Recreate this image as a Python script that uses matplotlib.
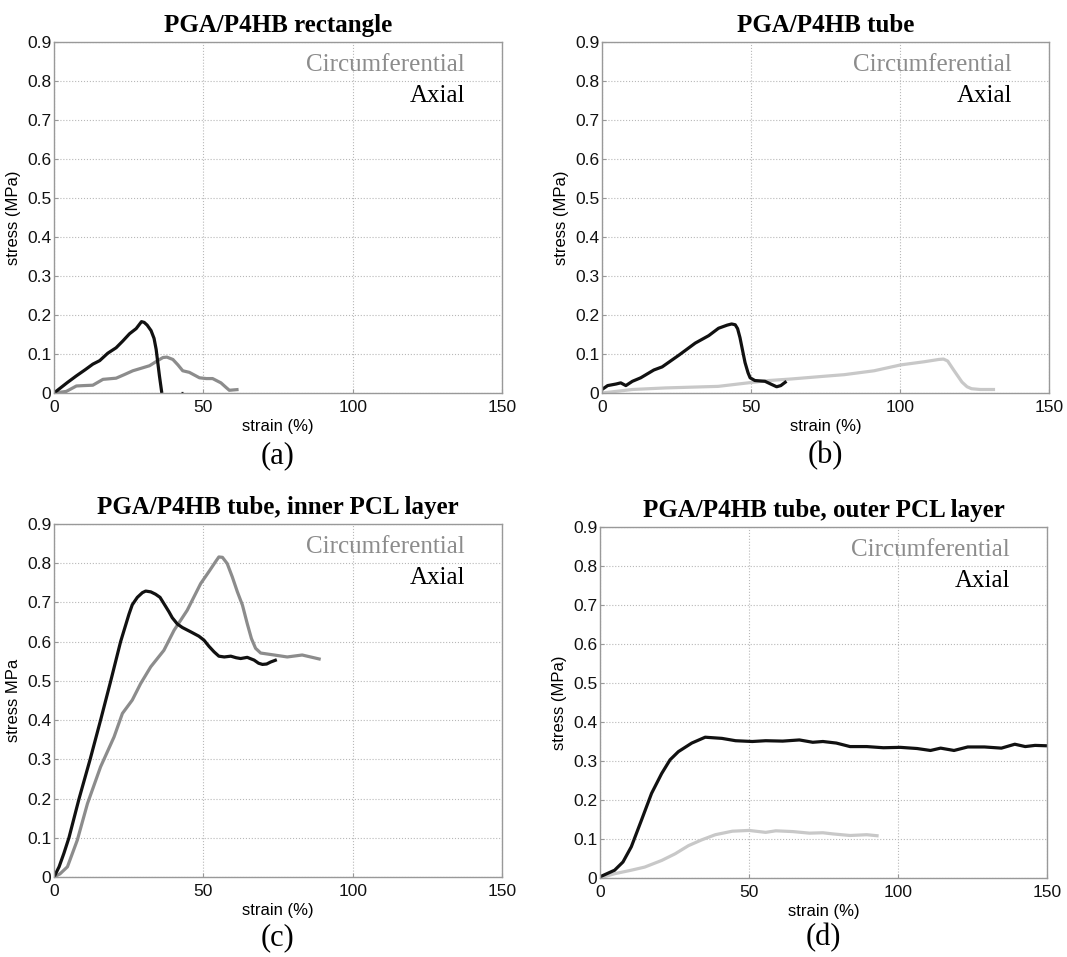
import matplotlib
matplotlib.use("Agg")
import matplotlib.pyplot as plt

# panel (a) PGA/P4HB rectangle
rect_ax_x = [0, 2, 4.5, 7.5, 10.5, 13, 15.3, 18, 20.8, 23, 25.3, 27.5, 28.6, 29.3, 30.2, 31.2, 32.5, 33.5, 34.2, 35.3, 36.1]
rect_ax_y = [0, 0.012, 0.027, 0.044, 0.060, 0.074, 0.083, 0.102, 0.116, 0.133, 0.152, 0.165, 0.176, 0.183, 0.181, 0.174, 0.160, 0.140, 0.112, 0.044, 0]
rect_ax_tail_x = [42.6, 43.2]
rect_ax_tail_y = [0.001, 0.001]
rect_ci_x = [0, 4.1, 7.5, 10, 13, 16.4, 20.8, 23.5, 26.4, 29, 32, 34.7, 36.5, 37.8, 39.8, 41.5, 43.1, 45.3, 48.7, 51, 53.1, 55.9, 57.5, 58.7, 61.8]
rect_ci_y = [0, 0.004, 0.018, 0.019, 0.020, 0.035, 0.038, 0.047, 0.057, 0.063, 0.070, 0.083, 0.091, 0.092, 0.086, 0.072, 0.057, 0.053, 0.039, 0.037, 0.037, 0.026, 0.015, 0.007, 0.009]

# panel (b) PGA/P4HB tube
tube_ax_x = [0, 1.9, 4.7, 6.3, 8, 10.2, 13, 17.4, 20.2, 25.8, 31.3, 35.8, 39.1, 42, 43.5, 44.7, 45.5, 46.3, 47.2, 48, 49, 49.7, 51.3, 54.7, 56.9, 58.6, 60, 61.9]
tube_ax_y = [0.009, 0.019, 0.023, 0.026, 0.019, 0.030, 0.039, 0.059, 0.067, 0.097, 0.128, 0.147, 0.166, 0.174, 0.177, 0.175, 0.165, 0.142, 0.108, 0.078, 0.052, 0.039, 0.032, 0.030, 0.022, 0.016, 0.019, 0.030]
tube_ci_x = [0, 10.2, 21.3, 39, 49, 56, 63.6, 74.7, 81.3, 91.3, 100.2, 108, 113, 114.6, 116, 118, 120.8, 122.5, 124, 126.9, 131.9]
tube_ci_y = [0, 0.009, 0.013, 0.017, 0.026, 0.032, 0.036, 0.043, 0.047, 0.057, 0.072, 0.080, 0.086, 0.087, 0.082, 0.059, 0.028, 0.016, 0.011, 0.009, 0.009]

# panel (c) inner PCL layer
inner_ax_x = [0, 1.7, 3.3, 5.0, 8.4, 12.1, 15.6, 19.0, 22.3, 25.1, 26.2, 27.9, 29.6, 30.7, 32.4, 34, 35.5, 36.8, 38.5, 39.6, 41.3, 43, 45.8, 48.5, 50.2, 51.9, 53.6, 55.2, 57, 59.2, 61, 62.5, 64.7, 67, 68.5, 69.8, 71.2, 72.5, 74.6]
inner_ax_y = [0, 0.026, 0.060, 0.100, 0.200, 0.300, 0.400, 0.500, 0.600, 0.670, 0.694, 0.713, 0.725, 0.729, 0.727, 0.721, 0.713, 0.697, 0.676, 0.661, 0.645, 0.636, 0.625, 0.614, 0.604, 0.588, 0.574, 0.563, 0.561, 0.563, 0.559, 0.557, 0.560, 0.553, 0.545, 0.542, 0.543, 0.548, 0.554]
inner_ci_x = [0, 2, 4.5, 7.8, 11.2, 15.6, 20.1, 22.9, 26.2, 29, 32.4, 36.8, 40.2, 44.6, 49.1, 52, 54.1, 55.2, 56.4, 58, 59.7, 61.4, 63.1, 64.7, 66.1, 67.5, 69.2, 73.7, 78.1, 83.1, 85.9, 89.3]
inner_ci_y = [0, 0.008, 0.026, 0.094, 0.187, 0.281, 0.357, 0.417, 0.451, 0.493, 0.536, 0.578, 0.629, 0.680, 0.748, 0.780, 0.804, 0.816, 0.815, 0.799, 0.765, 0.727, 0.693, 0.646, 0.608, 0.583, 0.571, 0.566, 0.561, 0.566, 0.561, 0.555]

# panel (d) outer PCL layer
outer_ax_x = [0, 4.9, 7.7, 10.5, 13.9, 17.3, 20.7, 23.5, 26.3, 30.8, 35.3, 40.9, 45.5, 51.1, 55.6, 61.3, 66.9, 71.4, 74.8, 79.3, 83.9, 89.5, 95.1, 100.8, 106.4, 110.9, 114.3, 118.8, 123.4, 129, 134.7, 139.2, 142.7, 146, 150]
outer_ax_y = [0.003, 0.020, 0.041, 0.080, 0.148, 0.217, 0.268, 0.303, 0.324, 0.346, 0.361, 0.358, 0.352, 0.350, 0.352, 0.351, 0.354, 0.348, 0.350, 0.346, 0.337, 0.337, 0.334, 0.335, 0.332, 0.327, 0.333, 0.327, 0.336, 0.336, 0.333, 0.343, 0.337, 0.340, 0.339]
outer_ci_x = [0, 4.9, 10.5, 15, 20.7, 25.2, 29.7, 34.2, 38.7, 44.4, 50, 55.6, 59, 64.7, 70.3, 74.8, 78.2, 83.9, 89.5, 93.5]
outer_ci_y = [0, 0.011, 0.020, 0.028, 0.045, 0.062, 0.083, 0.098, 0.111, 0.120, 0.122, 0.117, 0.121, 0.119, 0.115, 0.116, 0.113, 0.109, 0.111, 0.108]

titles = ["PGA/P4HB rectangle", "PGA/P4HB tube",
          "PGA/P4HB tube, inner PCL layer", "PGA/P4HB tube, outer PCL layer"]
ylabels = ["stress (MPa)", "stress (MPa)", "stress MPa", "stress (MPa)"]
letters = ["(a)", "(b)", "(c)", "(d)"]
xticks = [0, 50, 100, 150]
yticks = [0, 0.1, 0.2, 0.3, 0.4, 0.5, 0.6, 0.7, 0.8, 0.9]

W, H = 1067, 957
# axes boxes in pixels: left, right, top, bottom
boxes = [(54, 502, 42, 393), (602, 1049, 42, 393),
         (54, 502, 524, 877), (600, 1047, 527, 878)]

BLACK = "#111111"
MID = "#8c8c8c"
LIGHT = "#c8c8c8"

fig = plt.figure(figsize=(W / 100, H / 100), dpi=100)
axes = []
for (l, r, t, b) in boxes:
    ax = fig.add_axes([l / W, 1 - b / H, (r - l) / W, (b - t) / H])
    axes.append(ax)

series = [
    [(rect_ci_x, rect_ci_y, MID), (rect_ax_x, rect_ax_y, BLACK), (rect_ax_tail_x, rect_ax_tail_y, BLACK)],
    [(tube_ci_x, tube_ci_y, LIGHT), (tube_ax_x, tube_ax_y, BLACK)],
    [(inner_ci_x, inner_ci_y, MID), (inner_ax_x, inner_ax_y, BLACK)],
    [(outer_ci_x, outer_ci_y, LIGHT), (outer_ax_x, outer_ax_y, BLACK)],
]

for i, ax in enumerate(axes):
    for x, y, c in series[i]:
        ax.plot(x, y, color=c, lw=2.3, solid_joinstyle="round", solid_capstyle="butt")
    ax.set_xlim(0, 150)
    ax.set_ylim(0, 0.9)
    ax.set_xticks(xticks)
    ax.set_yticks(yticks)
    ax.set_xticklabels([str(v) for v in xticks])
    ax.set_yticklabels(["0"] + ["%.1f" % v for v in yticks[1:]])
    ax.grid(True, color="#b8b8b8", ls=":", lw=0.8)
    for s in ax.spines.values():
        s.set_color("#999999")
        s.set_linewidth(1.0)
    ax.tick_params(direction="in", length=3, color="#999999", labelsize=12.5,
                   labelcolor="#111111", labelfontfamily="Liberation Sans")
    ax.tick_params(axis="x", pad=5)
    ax.tick_params(axis="y", pad=2)
    ax.set_xlabel("strain (%)", fontsize=12, family="Liberation Sans", labelpad=3)
    ax.set_ylabel(ylabels[i], fontsize=12, family="Liberation Sans")
    ax.yaxis.set_label_coords(-0.074, 0.5)
    ax.set_title(titles[i], fontsize=18, fontweight="bold", family="Liberation Serif", pad=7)
    ax.text(0.917, 0.934, "Circumferential", transform=ax.transAxes, ha="right", va="center",
            fontsize=18, family="Liberation Serif", color=MID)
    ax.text(0.917, 0.846, "Axial", transform=ax.transAxes, ha="right", va="center",
            fontsize=18, family="Liberation Serif", color="black")

letter_pos = [(278, 456), (825, 456), (278, 938), (823, 938)]
for (px, py), lab in zip(letter_pos, letters):
    fig.text(px / W, 1 - py / H, lab, ha="center", va="center", fontsize=22,
             family="Liberation Serif")

fig.savefig("out.png", dpi=100, facecolor="white")
